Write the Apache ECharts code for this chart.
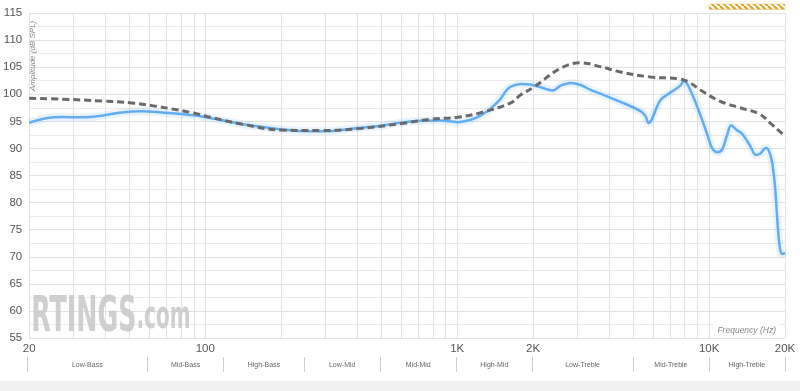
<!DOCTYPE html>
<html><head><meta charset="utf-8">
<script src="https://cdn.jsdelivr.net/npm/echarts@6/dist/echarts.min.js"></script>
<style>html,body{margin:0;padding:0;background:#fff}#c{width:800px;height:391px}</style>
</head><body><div id="c"></div>
<script>
// ---- data ----
const xLabelFreqs = [20, 100, 1000, 2000, 10000, 20000];
const xLabelTexts = ['20', '100', '1K', '2K', '10K', '20K'];
const gridFreqs = [20,30,40,50,60,70,80,90,100,200,300,400,500,600,700,800,900,1000,2000,3000,4000,5000,6000,7000,8000,9000,10000,20000];
const bandEdges = [20, 60, 120, 250, 500, 1000, 2000, 5000, 10000, 20000];
const bandNames = ['Low-Bass','Mid-Bass','High-Bass','Low-Mid','Mid-Mid','High-Mid','Low-Treble','Mid-Treble','High-Treble'];
const hatchRange = [10000, 20000];

const measuredFreq = [20,23.6,27,32.4,38.9,46.7,56,67.2,80.6,96.8,116,139,167,201,241,289,347,416,499,599,719,862,1000,1133,1241,1360,1489,1560,1631,1788,1950,2144,2393,2574,2820,3088,3382,3704,4446,5336,5585,5741,6404,7013,7681,7950,8414,9221,9826,10283,10758,11262,11789,12226,12794,13510,14536,15356,15924,16820,17286,17765,18256,18764,19110,19458,20000];
const measuredDb   = [94.75,95.6,95.8,95.75,96.05,96.65,96.85,96.65,96.35,95.9,95.2,94.5,94.0,93.5,93.2,93.15,93.4,93.8,94.2,94.75,95.1,95.15,94.85,95.3,96.1,97.4,99.2,100.6,101.4,101.9,101.8,101.3,100.7,101.6,102.1,101.7,100.8,100.1,98.6,96.9,96.0,94.7,98.9,100.3,101.6,102.5,100.8,96.2,92.6,90.0,89.3,89.8,92.5,94.3,93.5,92.7,90.5,88.8,89.0,90.1,89.5,87.5,83.0,75.0,71.5,70.5,70.7];

const targetFreq = [20,27,38.9,51.1,61.4,73.6,88.3,106,139,201,289,416,599,787,1000,1241,1631,1788,2012,2574,3088,3704,4446,5846,7681,8414,9221,11061,13273,15924,17444,19110,20000];
const targetDb   = [99.25,99.1,98.75,98.4,97.9,97.3,96.6,95.7,94.5,93.4,93.3,93.7,94.6,95.4,95.75,96.6,98.4,99.9,101.3,104.8,105.8,105.1,104.1,103.2,102.8,102.1,100.8,98.7,97.5,96.3,94.7,93.1,92.3];

const yMin = 55, yMax = 115, yStep = 5;

// ---- helpers ----
const lg = f => Math.log10(f);
const xMin = lg(20), xMax = lg(20000);
const toPts = (fs, vs) => fs.map((f, i) => [lg(f), vs[i]]);
const bandCenters = bandEdges.slice(0, -1).map((e, i) => (lg(e) + lg(bandEdges[i + 1])) / 2);
function lookup(v, vals, texts) {
  for (let i = 0; i < vals.length; i++) if (Math.abs(vals[i] - v) < 1e-6) return texts[i];
  return '';
}

const chart = echarts.init(document.getElementById('c'), null, {renderer: 'canvas'});
const gridColor = '#e2e2e2';

chart.setOption({
  animation: false,
  backgroundColor: '#fff',
  grid: [
    {left: 27, right: 15, top: 13, bottom: 53, containLabel: false},
    {left: 27, right: 15, top: 357, height: 15, containLabel: false}
  ],
  xAxis: [{
    type: 'value', gridIndex: 0, min: xMin, max: xMax,
    axisLine: {show: false},
    axisTick: {show: false, customValues: gridFreqs.map(lg)},
    splitLine: {show: true, lineStyle: {color: gridColor, width: 1}},
    axisLabel: {
      customValues: xLabelFreqs.map(lg), showMinLabel: true, showMaxLabel: true,
      color: '#555', fontSize: 11.5, fontFamily: 'Liberation Sans, Arial, sans-serif', margin: 5,
      formatter: v => lookup(v, xLabelFreqs.map(lg), xLabelTexts)
    }
  }, {
    type: 'value', gridIndex: 1, min: xMin, max: xMax,
    axisLine: {show: false},
    axisTick: {show: false, customValues: bandEdges.map(lg)},
    splitLine: {show: true, lineStyle: {color: '#cfcfcf', width: 1}},
    axisLabel: {
      customValues: bandCenters, color: '#666', fontSize: 7,
      fontFamily: 'Liberation Sans, Arial, sans-serif', margin: -10,
      formatter: v => lookup(v, bandCenters, bandNames)
    }
  }],
  yAxis: [{
    type: 'value', gridIndex: 0, min: yMin, max: yMax, interval: yStep,
    axisLine: {show: false}, axisTick: {show: false},
    minorTick: {show: false, splitNumber: 2},
    minorSplitLine: {show: true, lineStyle: {color: '#ebebeb', width: 1}},
    splitLine: {show: true, lineStyle: {color: gridColor, width: 1}},
    axisLabel: {color: '#555', fontSize: 11.5, fontFamily: 'Liberation Sans, Arial, sans-serif', margin: 7}
  }, {
    type: 'value', gridIndex: 1, min: 0, max: 1, show: false
  }],
  series: [{
    name: 'measured-halo', type: 'line', xAxisIndex: 0, yAxisIndex: 0,
    data: toPts(measuredFreq, measuredDb), showSymbol: false, smooth: 0.35,
    lineStyle: {color: 'rgba(110,175,245,0.15)', width: 8}, z: 2, silent: true
  }, {
    name: 'measured', type: 'line', xAxisIndex: 0, yAxisIndex: 0,
    data: toPts(measuredFreq, measuredDb), showSymbol: false, smooth: 0.35,
    lineStyle: {color: '#63adf5', width: 2.5}, z: 3
  }, {
    name: 'target', type: 'line', xAxisIndex: 0, yAxisIndex: 0,
    data: toPts(targetFreq, targetDb), showSymbol: false, smooth: 0.4,
    lineStyle: {color: '#6a6a6a', width: 3, type: [7, 4]}, z: 4
  }]
});

// ---- decorations positioned from the axes ----
const px = f => chart.convertToPixel({xAxisIndex: 0}, lg(f));
const py = v => chart.convertToPixel({yAxisIndex: 0}, v);

const pat = document.createElement('canvas');
pat.width = 6; pat.height = 6;
const g = pat.getContext('2d');
g.fillStyle = '#ffffff'; g.fillRect(0, 0, 6, 6);
g.strokeStyle = '#e0a62a'; g.lineWidth = 2.4;
for (let k = -6; k <= 12; k += 6) { g.beginPath(); g.moveTo(k, 0); g.lineTo(k + 6, 6); g.stroke(); }

const hx0 = px(hatchRange[0]), hx1 = px(hatchRange[1]);

chart.setOption({
  graphic: [
    {type: 'rect', left: 0, top: 381, shape: {x: 0, y: 0, width: 800, height: 10}, style: {fill: '#f1f1f1'}, z: 0},
    {type: 'rect', shape: {x: hx0, y: 4, width: hx1 - hx0, height: 5.5}, style: {fill: {image: pat, repeat: 'repeat'}, stroke: '#e6c070', lineWidth: 0.5}, z: 10},
    {type: 'text', x: 33, y: py(yMax) + 78, rotation: Math.PI / 2,
      style: {text: 'Amplitude (dB SPL)', fill: '#8a8a8a', font: 'italic 8px "Liberation Sans", Arial, sans-serif', align: 'left', verticalAlign: 'middle'}, z: 10},
    {type: 'text', x: px(20000) - 6, y: py(yMin) - 2,
      style: {text: 'Frequency (Hz)', fill: '#888', font: 'italic 8.5px "Liberation Sans", Arial, sans-serif', align: 'right', verticalAlign: 'bottom',
        backgroundColor: '#fff', padding: [2, 3, 1, 4]}, z: 10},
    {type: 'text', x: px(20) + 2, y: py(yMin) + 1, scaleX: 0.6, scaleY: 1.05, originX: 0, originY: 0,
      style: {
        text: '{a|RTINGS}{b|.com}', verticalAlign: 'bottom', align: 'left',
        rich: {
          a: {fontFamily: '"Liberation Sans Narrow", "DejaVu Sans Condensed", sans-serif', fontWeight: 'bold', fontSize: 47, fill: 'rgba(200,200,200,0.88)', lineHeight: 40},
          b: {fontFamily: '"Liberation Sans Narrow", "DejaVu Sans Condensed", sans-serif', fontWeight: 'bold', fontSize: 37, fill: 'rgba(200,200,200,0.88)', lineHeight: 40}
        }
      }, z: 1}
  ]
});
</script>
</body></html>
